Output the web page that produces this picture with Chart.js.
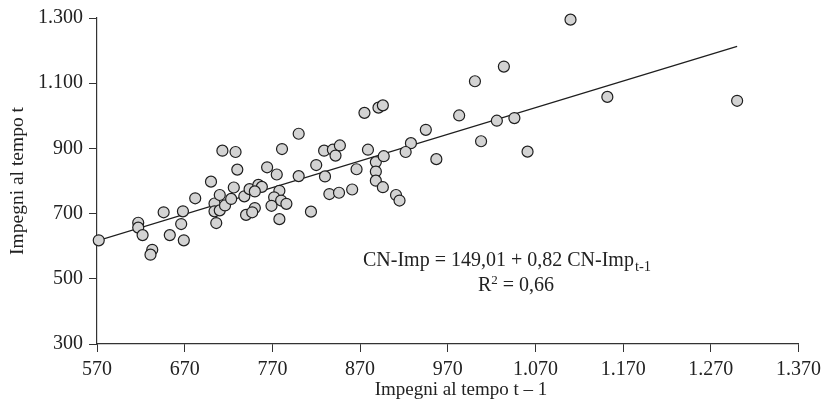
<!DOCTYPE html>
<html lang="it">
<head>
  <meta charset="UTF-8" />
  <title>Impegni al tempo t</title>
  <style>
    html, body { margin: 0; padding: 0; background: #fff; }
    #wrap { width: 827px; height: 404px; }
  </style>
</head>
<body>
  <div id="wrap"><canvas id="chart" width="827" height="404"></canvas></div>

  <script src="https://cdn.jsdelivr.net/npm/chart.js"></script>
  <script>
    // impegni al tempo t-1 (asse x) e al tempo t (asse y)
    const impPrev = [572, 617, 617, 622, 633, 631, 646, 653, 668, 666, 669, 682, 700, 730, 706, 704, 704, 710, 710, 716,
                     723, 726, 738, 744, 740, 764, 775, 820, 800, 830, 866, 888, 888, 888, 896, 911, 915, 754, 758, 750,
                     778, 772, 780, 786, 769, 750, 747, 778, 814, 835, 846, 861, 713, 728, 800, 781, 829, 839, 842, 847,
                     875, 891, 896, 879, 897, 1110, 1034, 1001, 1152, 1300, 983, 1026, 1046, 945, 928, 922, 957, 1008, 1061];
    const impCurr = [618, 672, 657, 634, 589, 574, 704, 634, 707, 668, 618, 747, 798, 835, 671, 731, 707, 757, 710, 725,
                     745, 780, 753, 775, 696, 842, 820, 849, 815, 814, 836, 858, 829, 801, 781, 757, 740, 788, 782, 768,
                     770, 750, 740, 730, 724, 717, 704, 683, 706, 760, 764, 774, 893, 889, 945, 898, 893, 896, 878, 909,
                     1009, 1025, 1032, 896, 876, 1295, 1151, 1106, 1058, 1046, 1001, 985, 993, 957, 916, 889, 867, 922, 890];

    // retta di regressione (estremi)
    const lineX = [570, 1300];
    const lineY = [616, 1213];

    const xTicks = [570, 670, 770, 870, 970, 1070, 1170, 1270, 1370];
    const xTickLabels = ['570', '670', '770', '870', '970', '1.070', '1.170', '1.270', '1.370'];
    const yTicks = [300, 500, 700, 900, 1100, 1300];
    const yTickLabels = ['300', '500', '700', '900', '1.100', '1.300'];

    const FONT = '"Liberation Serif", "Times New Roman", serif';
    const INK = '#222';

    // equazione, R² e titolo asse x
    const textPlugin = {
      id: 'eqn',
      afterDraw(chart) {
        const ctx = chart.ctx;
        ctx.save();
        ctx.fillStyle = INK;
        ctx.textBaseline = 'alphabetic';
        ctx.textAlign = 'left';
        ctx.font = '20px ' + FONT;
        const main = 'CN-Imp = 149,01 + 0,82 CN-Imp';
        const x0 = 363, y0 = 266;
        ctx.fillText(main, x0, y0);
        const w = ctx.measureText(main).width;
        ctx.font = '14.5px ' + FONT;
        ctx.fillText('t-1', x0 + w + 1, y0 + 5);

        ctx.font = '20px ' + FONT;
        const r = 'R';
        const rest = ' = 0,66';
        const wr = ctx.measureText(r).width;
        const wrest = ctx.measureText(rest).width;
        ctx.font = '13px ' + FONT;
        const wsup = ctx.measureText('2').width;
        const xs = 516 - (wr + wsup + wrest) / 2;
        ctx.font = '20px ' + FONT;
        ctx.fillText(r, xs, 291);
        ctx.font = '13px ' + FONT;
        ctx.fillText('2', xs + wr, 284);
        ctx.font = '20px ' + FONT;
        ctx.fillText(rest, xs + wr + wsup, 291);

        ctx.font = '19px ' + FONT;
        ctx.textAlign = 'center';
        ctx.fillText('Impegni al tempo t – 1', 461, 395);
        ctx.restore();
      }
    };

    const ctx = document.getElementById('chart').getContext('2d');
    new Chart(ctx, {
      type: 'scatter',
      data: {
        datasets: [
          {
            label: 'Impegni',
            data: impPrev.map((v, i) => ({ x: v, y: impCurr[i] })),
            pointRadius: 5.5,
            pointBackgroundColor: '#d3d3d3',
            pointBorderColor: '#1e1e1e',
            pointBorderWidth: 1.2,
            clip: false,
            order: 0
          },
          {
            type: 'line',
            label: 'Regressione',
            data: lineX.map((v, i) => ({ x: v, y: lineY[i] })),
            borderColor: '#1e1e1e',
            borderWidth: 1.3,
            pointRadius: 0,
            fill: false,
            order: 1
          }
        ]
      },
      options: {
        responsive: false,
        animation: false,
        layout: { padding: { top: 18, right: 28, left: 0, bottom: 0 } },
        plugins: { legend: { display: false }, tooltip: { enabled: false } },
        scales: {
          x: {
            type: 'linear', min: 570, max: 1370,
            afterBuildTicks: s => { s.ticks = xTicks.map(v => ({ value: v })); },
            afterFit: s => { s.height = 60; },
            grid: { drawOnChartArea: false, drawTicks: true, tickLength: 8, color: '#333' },
            border: { display: true, color: '#333', width: 1.2 },
            ticks: {
              callback: (v, i) => xTickLabels[i],
              color: INK, font: { family: FONT, size: 20 }, padding: 6,
              maxRotation: 0, autoSkip: false
            },
            title: { display: false }
          },
          y: {
            type: 'linear', min: 300, max: 1300,
            afterBuildTicks: s => { s.ticks = yTicks.map(v => ({ value: v })); },
            afterFit: s => { s.width = 97; },
            grid: { drawOnChartArea: false, drawTicks: true, tickLength: 8, color: '#333' },
            border: { display: true, color: '#333', width: 1.2 },
            ticks: {
              callback: (v, i) => yTickLabels[i],
              color: INK, font: { family: FONT, size: 20 }, padding: 6,
              autoSkip: false
            },
            title: {
              display: true, text: 'Impegni al tempo t', color: INK,
              font: { family: FONT, size: 19.5 }, padding: { top: 6, bottom: 0 }
            }
          }
        }
      },
      plugins: [textPlugin]
    });
  </script>
</body>
</html>
